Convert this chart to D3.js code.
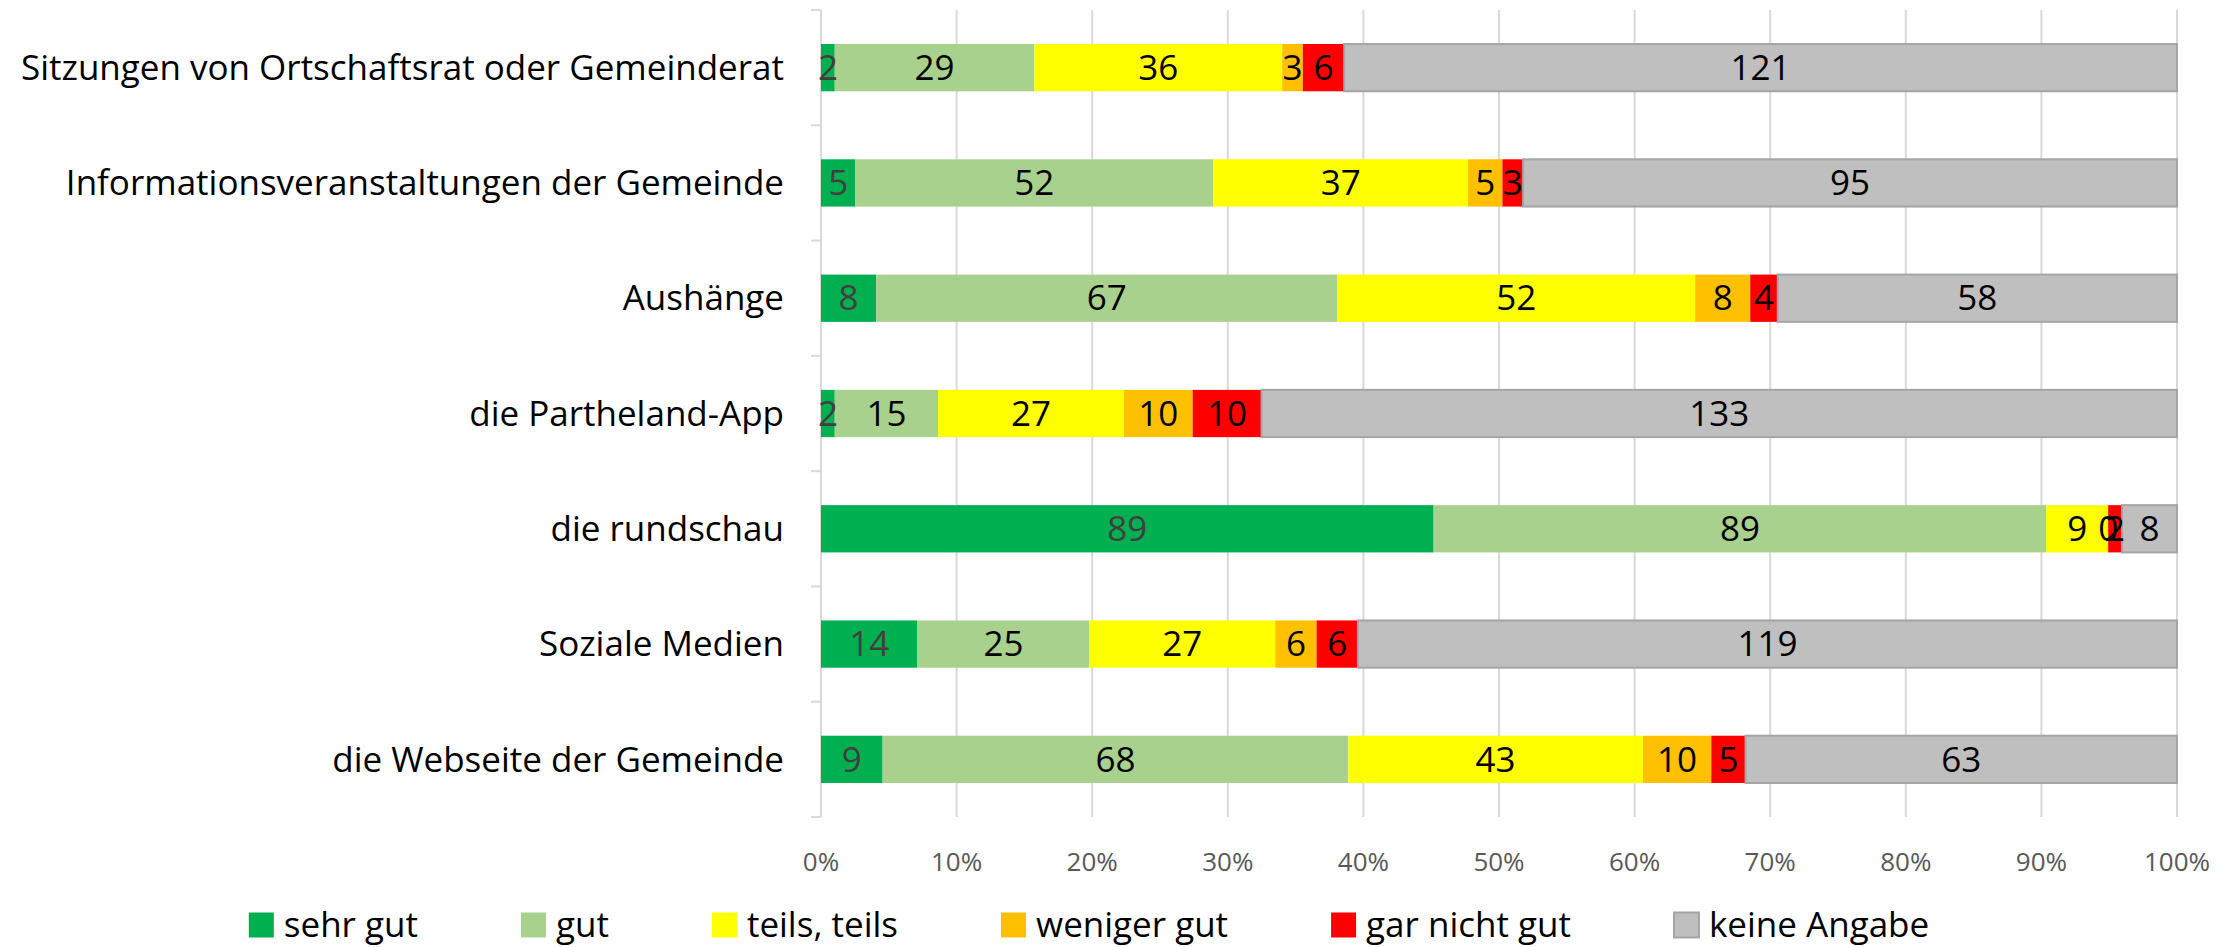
<!DOCTYPE html>
<html>
<head>
<meta charset="utf-8">
<script src="https://d3js.org/d3.v7.min.js"></script>
<style>
    body { margin: 0; background: #ffffff; }
    text { font-family: "Open Sans", "Noto Sans", sans-serif; }
</style>
</head>
<body>
<div id="chart"></div>
<script>
var categories = ["Sitzungen von Ortschaftsrat oder Gemeinderat", "Informationsveranstaltungen der Gemeinde",
    "Aushänge", "die Partheland-App", "die rundschau", "Soziale Medien", "die Webseite der Gemeinde"];

var seriesNames = ["sehr gut", "gut", "teils, teils", "weniger gut", "gar nicht gut", "keine Angabe"];

var sehrGut     = [2, 5, 8, 2, 89, 14, 9];
var gut         = [29, 52, 67, 15, 89, 25, 68];
var teilsTeils  = [36, 37, 52, 27, 9, 27, 43];
var wenigerGut  = [3, 5, 8, 10, 0, 6, 10];
var garNichtGut = [6, 3, 4, 10, 2, 6, 5];
var keineAngabe = [121, 95, 58, 133, 8, 119, 63];

var tickLabels = ["0%", "10%", "20%", "30%", "40%", "50%", "60%", "70%", "80%", "90%", "100%"];

var seriesValues = [sehrGut, gut, teilsTeils, wenigerGut, garNichtGut, keineAngabe];
var colors = ["#00b050", "#a9d18e", "#ffff00", "#ffc000", "#ff0000", "#bfbfbf"];

// build rows for d3.stack
var rows = categories.map(function (c, i) {
    var r = {cat: c};
    seriesNames.forEach(function (s, j) { r[s] = seriesValues[j][i]; });
    return r;
});

var W = 2239, H = 947;
var margin = {top: 10, right: 62, bottom: 130, left: 821};
var width = W - margin.left - margin.right;
var height = H - margin.top - margin.bottom;
var fontSize = 35;

var stack = d3.stack()
    .keys(seriesNames)
    .order(d3.stackOrderNone)
    .offset(d3.stackOffsetExpand);
var layers = stack(rows);

var xScale = d3.scaleLinear().domain([0, 1]).range([0, width]);
var yScale = d3.scaleBand()
    .domain(categories)
    .range([0, height])
    .paddingInner(0.59)
    .paddingOuter(0.295);

var svg = d3.select("#chart").append("svg")
    .attr("width", W)
    .attr("height", H);

var g = svg.append("g")
    .attr("transform", "translate(" + margin.left + "," + margin.top + ")");

// vertical gridlines
g.selectAll(".grid")
    .data(d3.range(1, 11).map(function (d) { return d / 10; }))
    .enter().append("line")
    .attr("x1", function (d) { return xScale(d); })
    .attr("x2", function (d) { return xScale(d); })
    .attr("y1", 0)
    .attr("y2", height)
    .attr("stroke", "#d9d9d9")
    .attr("stroke-width", 2);

// category axis line + ticks
g.append("line")
    .attr("x1", 0).attr("x2", 0)
    .attr("y1", 0).attr("y2", height)
    .attr("stroke", "#d9d9d9").attr("stroke-width", 2);
g.selectAll(".ytick")
    .data(d3.range(0, categories.length + 1))
    .enter().append("line")
    .attr("x1", -10).attr("x2", 0)
    .attr("y1", function (d) { return d * height / categories.length; })
    .attr("y2", function (d) { return d * height / categories.length; })
    .attr("stroke", "#d9d9d9").attr("stroke-width", 2);

// bars
var layer = g.selectAll(".layer")
    .data(layers)
    .enter().append("g")
    .attr("class", "layer")
    .style("fill", function (d, i) { return colors[i]; });

layer.selectAll("rect")
    .data(function (d) { return d; })
    .enter().append("rect")
    .attr("x", function (d) { return xScale(d[0]); })
    .attr("y", function (d) { return yScale(d.data.cat); })
    .attr("width", function (d) { return xScale(d[1]) - xScale(d[0]); })
    .attr("height", yScale.bandwidth())
    .attr("stroke", function () { return d3.select(this.parentNode).datum().key === "keine Angabe" ? "#a5a5a5" : "none"; })
    .attr("stroke-width", 2);

// data labels
layers.forEach(function (lay, i) {
    g.selectAll(".lbl" + i)
        .data(lay)
        .enter().append("text")
        .attr("x", function (d) { return xScale((d[0] + d[1]) / 2); })
        .attr("y", function (d) { return yScale(d.data.cat) + yScale.bandwidth() / 2; })
        .attr("dy", "0.35em")
        .attr("text-anchor", "middle")
        .attr("font-size", fontSize)
        .attr("fill", i === 0 ? "#404040" : "#000000")
        .text(function (d) { return d.data[lay.key]; });
});

// category labels
g.selectAll(".cat")
    .data(categories)
    .enter().append("text")
    .attr("x", -37)
    .attr("y", function (d) { return yScale(d) + yScale.bandwidth() / 2; })
    .attr("dy", "0.35em")
    .attr("text-anchor", "end")
    .attr("font-size", fontSize)
    .attr("fill", "#000000")
    .text(function (d) { return d; });

// x tick labels
g.selectAll(".xtick")
    .data(tickLabels)
    .enter().append("text")
    .attr("x", function (d, i) { return xScale(i / 10); })
    .attr("y", height + 45)
    .attr("dy", "0.35em")
    .attr("text-anchor", "middle")
    .attr("font-size", 26)
    .attr("fill", "#595959")
    .text(function (d) { return d; });

// legend
var legend = svg.append("g");
var sw = 25, gapText = 10, gapItem = 103;
var xpos = 0;
seriesNames.forEach(function (s, i) {
    var item = legend.append("g").attr("transform", "translate(" + xpos + ",0)");
    item.append("rect")
        .attr("x", 0).attr("y", -sw / 2)
        .attr("width", sw).attr("height", sw)
        .attr("fill", colors[i])
        .attr("stroke", i === 5 ? "#a5a5a5" : "none")
        .attr("stroke-width", 2);
    var t = item.append("text")
        .attr("x", sw + gapText)
        .attr("y", 0)
        .attr("dy", "0.35em")
        .attr("font-size", fontSize)
        .attr("fill", "#000000")
        .text(s);
    xpos += sw + gapText + t.node().getComputedTextLength() + gapItem;
});
var legendW = xpos - gapItem;
legend.attr("transform", "translate(" + (1089 - legendW / 2) + ",925)");
</script>
</body>
</html>
